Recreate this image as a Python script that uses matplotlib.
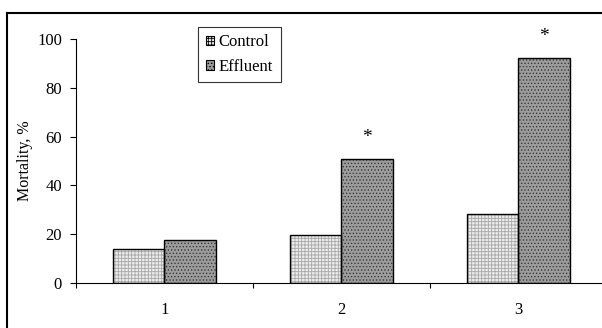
import matplotlib
matplotlib.use("Agg")
import matplotlib.pyplot as plt
import numpy as np
from matplotlib.lines import Line2D
from matplotlib.patches import Patch

plt.rcParams['font.family'] = ['Liberation Serif', 'DejaVu Serif']
plt.rcParams['hatch.linewidth'] = 0.6

# ——— data ———
groups = ['1', '2', '3']
control = [14.0, 19.5, 28.3]
effluent = [17.8, 51.0, 92.4]
signif = [False, True, True]   # star above effluent bar

fig = plt.figure(figsize=(6.02, 3.28), dpi=100)
ax = fig.add_axes([76 / 602, 1 - 283 / 328, 531 / 602, 244 / 328])

x = np.arange(len(groups))
w = 0.29
# textured fill (hatch drawn in edgecolor, no outline), then black outline
ax.bar(x - w / 2, control, w, color='#ececec', edgecolor='#a8a8a8',
       linewidth=0, hatch='+++++')
ax.bar(x + w / 2, effluent, w, color='#9c9c9c', edgecolor='#3a3a3a',
       linewidth=0, hatch='.....')
ax.bar(x - w / 2, control, w, fill=False, edgecolor='black', linewidth=1.0)
ax.bar(x + w / 2, effluent, w, fill=False, edgecolor='black', linewidth=1.0)

for xi, v, s in zip(x, effluent, signif):
    if s:
        ax.text(xi + w / 2, v + 5.2, '*', ha='center', va='bottom', fontsize=14)

ax.set_xlim(-0.5, len(groups) - 0.5)
ax.set_ylim(0, 100)
ax.set_yticks(range(0, 101, 20))
ax.set_xticks(x)
ax.set_xticklabels(groups)
ax.set_xticks(np.arange(-0.5, len(groups)), minor=True)
ax.tick_params(axis='x', which='major', length=0, pad=14, labelsize=12)
ax.tick_params(axis='x', which='minor', length=3.5, direction='out', width=0.8)
ax.tick_params(axis='y', length=4, direction='out', width=0.8, pad=6, labelsize=12)
for s in ['top', 'right']:
    ax.spines[s].set_visible(False)
ax.spines['left'].set_linewidth(0.8)
ax.spines['bottom'].set_linewidth(0.8)
ax.set_ylabel('Mortality, %', fontsize=11.5, labelpad=3)

# legend proxies with the same textures
handles = [Patch(facecolor='#ececec', edgecolor='black', hatch='+++++', linewidth=0.8),
           Patch(facecolor='#9c9c9c', edgecolor='black', hatch='.....', linewidth=0.8)]
leg = ax.legend(handles, ['Control', 'Effluent'], loc='upper left',
                bbox_to_anchor=((198 - 76) / 531, (283 - 27) / 244), fontsize=12,
                frameon=True, fancybox=False, edgecolor='black', handlelength=0.5,
                handleheight=0.5, handletextpad=0.3, borderpad=0.45, labelspacing=0.5,
                borderaxespad=0)
leg.get_frame().set_linewidth(0.8)

# outer frame (cropped on the right and bottom)
fig.add_artist(Line2D([7 / 602, 7 / 602], [0, 1 - 13 / 328], color='black', lw=1.5,
                      transform=fig.transFigure))
fig.add_artist(Line2D([7 / 602, 1], [1 - 13 / 328, 1 - 13 / 328], color='black', lw=1.5,
                      transform=fig.transFigure))

fig.savefig('out.png', dpi=100)
